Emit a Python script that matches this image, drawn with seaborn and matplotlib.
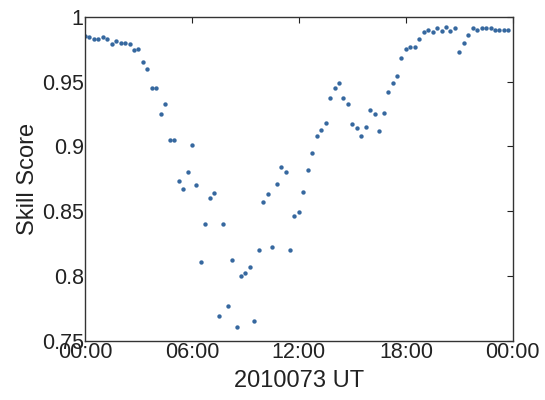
import numpy as np
import pandas as pd
import matplotlib
matplotlib.use("Agg")
import matplotlib.pyplot as plt
import seaborn as sns

# 15-minute samples over the day (hours since 00:00)
hours = np.arange(0, 24, 0.25)

skill = [
    0.985, 0.9846, 0.983, 0.9826, 0.9846, 0.9826, 0.979, 0.981, 0.9795, 0.9797,
    0.979, 0.974, 0.975, 0.965, 0.960, 0.945, 0.945, 0.925, 0.933, 0.905,
    0.905, 0.873, 0.867, 0.880, 0.901, 0.870, 0.811, 0.840, 0.860, 0.864,
    0.769, 0.840, 0.777, 0.812, 0.761, 0.800, 0.802, 0.807, 0.765, 0.820,
    0.857, 0.863, 0.822, 0.871, 0.884, 0.880, 0.820, 0.846, 0.849, 0.865,
    0.882, 0.895, 0.908, 0.913, 0.918, 0.937, 0.945, 0.949, 0.937, 0.933,
    0.917, 0.914, 0.908, 0.915, 0.928, 0.925, 0.912, 0.926, 0.942, 0.949,
    0.954, 0.968, 0.975, 0.977, 0.977, 0.983, 0.988, 0.990, 0.988, 0.9915,
    0.989, 0.992, 0.989, 0.9915, 0.973, 0.980, 0.986, 0.991, 0.990, 0.991,
    0.9915, 0.991, 0.990, 0.990, 0.990, 0.990,
]

xticks = [0, 6, 12, 18, 24]
xticklabels = ["00:00", "06:00", "12:00", "18:00", "00:00"]
yticks = [0.75, 0.8, 0.85, 0.9, 0.95, 1.0]
yticklabels = ["0.75", "0.8", "0.85", "0.9", "0.95", "1"]

df = pd.DataFrame({"hour": hours, "skill": skill})

sns.set_style("white")
plt.rcParams["font.family"] = ["Liberation Sans", "DejaVu Sans"]
plt.rcParams["text.color"] = "#222222"

fig = plt.figure(figsize=(5.45, 4), dpi=100)
ax = fig.add_axes([0.156, 0.148, 0.785, 0.81])

sns.scatterplot(data=df, x="hour", y="skill", ax=ax, color="#36689f",
                s=10, linewidth=0, legend=False)

ax.set_xlim(0, 24)
ax.set_ylim(0.75, 1.0)
ax.set_xticks(xticks)
ax.set_xticklabels(xticklabels)
ax.set_yticks(yticks)
ax.set_yticklabels(yticklabels)
ax.tick_params(direction="in", top=True, right=True, length=4, width=0.8,
               labelsize=15.5, pad=1, colors="#222222")
for sp in ax.spines.values():
    sp.set_color("#333333")
    sp.set_linewidth(1.0)

ax.set_xlabel("2010073 UT", fontsize=17, labelpad=5, color="#222222")
ax.set_ylabel("Skill Score", fontsize=17, labelpad=2, color="#222222")

fig.savefig("out.png", dpi=100)
